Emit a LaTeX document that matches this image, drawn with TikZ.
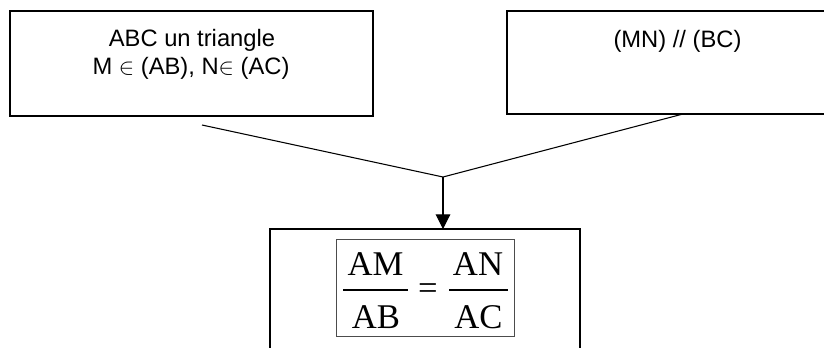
\documentclass[tikz,border=0pt]{standalone}
\usepackage{fontspec}
\setmainfont{Liberation Sans}
\newfontfamily\tnr{Liberation Serif}
\usetikzlibrary{arrows.meta}
\tikzset{
  frame/.style={draw=black, line width=1pt, rectangle, inner sep=0pt},
  label/.style={font=\fontsize{17.8pt}{20.5pt}\selectfont, align=center, anchor=base, inner sep=0pt},
  frac/.style={font=\tnr\fontsize{26pt}{30pt}\selectfont, anchor=base, inner sep=0pt},
  link/.style={draw=black, line width=0.8pt},
  fbar/.style={draw=black, line width=0.9pt},
}
\begin{document}
\begin{tikzpicture}[x=0.75pt,y=-0.75pt]
\useasboundingbox (0,0) rectangle (824,347);
% boxes
\node[frame, minimum width=272.25pt, minimum height=78.75pt] (lbox) at (191.5,63.5) {};
\node[frame, minimum width=248.25pt, minimum height=77.25pt] (rbox) at (672.5,62.5) {};
\node[frame, minimum width=232.5pt, minimum height=113.25pt] (bbox) at (425,304.5) {};
% texts
\node[label] (t1) at (192,46) {ABC un triangle};
\node[label] (t2) at (191,74) {M $\in$ (AB), N$\in$ (AC)};
\node[label] (t3) at (677.5,47) {(MN) // (BC)};
% connectors
\coordinate (ls) at (202,125);
\coordinate (rs) at (683,114);
\coordinate (j) at (443,177);
\coordinate (bt) at (443,229);
\draw[link] (ls) -- (j) -- (rs);
\draw[link, -{Triangle[width=11pt,length=11pt]}] (j) -- (bt);
% formula
\node[draw=black!70, line width=0.7pt, minimum width=133.5pt, minimum height=72.75pt, inner sep=0pt] (fbox) at (425,287.5) {};
\node[frac] (am) at (375.5,275) {AM};
\node[frac] (an) at (478,275) {AN};
\node[frac] (ab) at (376,328) {AB};
\node[frac] (ac) at (478.5,328) {AC};
\node[frac] (eq) at (428,299.5) {=};
\coordinate (b1l) at (343,290); \coordinate (b1r) at (408,290);
\coordinate (b2l) at (449,290); \coordinate (b2r) at (508,290);
\draw[fbar] (b1l) -- (b1r);
\draw[fbar] (b2l) -- (b2r);
\end{tikzpicture}
\end{document}
